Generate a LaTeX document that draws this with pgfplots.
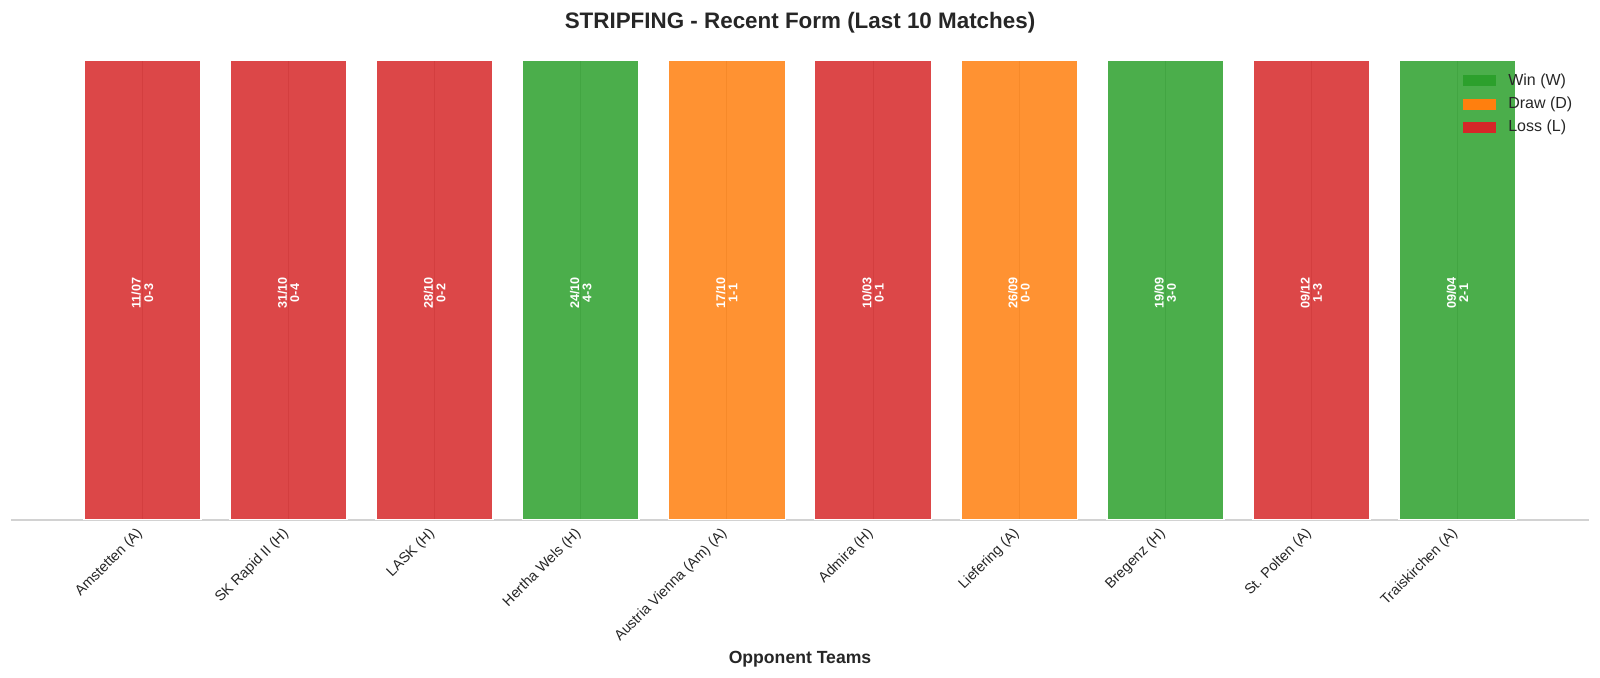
\documentclass[border=0pt]{standalone}
\usepackage{fontspec}
\setmainfont{Liberation Sans}
\usepackage{pgfplots}
\usepackage{pgfplotstable}
\pgfplotsset{compat=1.18}

\definecolor{winc}{HTML}{2CA02C}
\definecolor{drawc}{HTML}{FF7F0E}
\definecolor{lossc}{HTML}{D62728}
\definecolor{gridc}{HTML}{C4C4C4}
\definecolor{txt}{HTML}{262626}

% one row per match: position, label height, date, score
\pgfplotstableread{
x mid date score
0 0.5 11/07 0-3
1 0.5 31/10 0-4
2 0.5 28/10 0-2
3 0.5 24/10 4-3
4 0.5 17/10 1-1
5 0.5 10/03 0-1
6 0.5 26/09 0-0
7 0.5 19/09 3-0
8 0.5 09/12 1-3
9 0.5 09/04 2-1
}\matches

\pgfplotsset{
    barlabel/.style={draw=none, mark=none, forget plot,
        point meta=explicit symbolic, nodes near coords,
        every node near coord/.style={xshift=#1, yshift=-1.5pt, rotate=90,
            anchor=center, text=white, inner sep=0pt,
            font=\fontsize{6.3}{7}\selectfont\bfseries}},
    resultbar/.style={ybar, bar width=0.8, bar shift=0pt, fill=#1,
        fill opacity=0.85, draw=white, line width=0.8pt, forget plot},
}

\begin{document}
\begin{tikzpicture}
\begin{axis}[
    scale only axis,
    width=789pt, height=230pt,
    xmin=-0.9, xmax=9.9,
    ymin=0, ymax=1,
    axis x line*=bottom,
    axis y line=none,
    x axis line style={draw=gray!35, line width=0.6pt},
    xtick={0,...,9},
    xticklabels={Amstetten (A),SK Rapid II (H),LASK (H),Hertha Wels (H),Austria Vienna (Am) (A),Admira (H),Liefering (A),Bregenz (H),St. Polten (A),Traiskirchen (A)},
    xtick style={draw=none},
    xticklabel style={xshift=-3.5pt, yshift=1.5pt, rotate=45, anchor=north east,
        text=txt, font=\fontsize{7.2}{9}\selectfont},
    ytick=\empty,
    xmajorgrids,
    grid style={gridc, line width=0.5pt},
    title={STRIPFING - Recent Form (Last 10 Matches)},
    every axis title/.style={at={(axis description cs:0.5,1)}, anchor=center,
        yshift=18.5pt, text=txt, font=\fontsize{11.2}{13}\selectfont\bfseries},
    xlabel={Opponent Teams},
    every axis x label/.style={at={(axis description cs:0.5,-0.302)},
        anchor=center, text=txt, font=\fontsize{8.8}{10}\selectfont\bfseries},
    legend style={at={(rel axis cs:0.996,0.989)}, anchor=north east,
        draw=none, fill=none, text=txt,
        font=\fontsize{8}{9}\selectfont, row sep=0.4pt,
        /tikz/every odd column/.append style={column sep=4pt}},
    legend cell align=left,
    legend image code/.code={\fill[#1, draw=none] (0pt,-2.7pt) rectangle (16.5pt,2.7pt);},
]

\addlegendimage{fill=winc}
\addlegendentry{Win (W)}
\addlegendimage{fill=drawc}
\addlegendentry{Draw (D)}
\addlegendimage{fill=lossc}
\addlegendentry{Loss (L)}

\addplot[resultbar=lossc] coordinates {(0,1) (1,1) (2,1) (5,1) (8,1)};
\addplot[resultbar=winc]  coordinates {(3,1) (7,1) (9,1)};
\addplot[resultbar=drawc] coordinates {(4,1) (6,1)};

% date and score written inside each bar
\addplot[barlabel=-3.1pt] table[x=x, y=mid, meta=date] {\matches};
\addplot[barlabel=3.1pt]  table[x=x, y=mid, meta=score] {\matches};

\end{axis}
\pgfresetboundingbox
\path[use as bounding box] (-5.5pt,-79pt) rectangle (794.5pt,260pt);
\end{tikzpicture}
\end{document}
